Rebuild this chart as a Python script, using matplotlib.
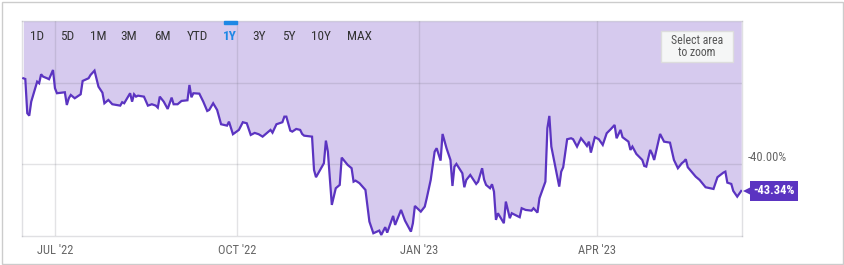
import matplotlib
matplotlib.use('Agg')
import pandas as pd
import numpy as np
import matplotlib.pyplot as plt
import matplotlib.patches as mpatches
import matplotlib.transforms as mtransforms

plt.rcParams['font.family'] = ['Roboto Condensed', 'Liberation Sans Narrow', 'Roboto', 'DejaVu Sans']

# data (cumulative % change, 1Y)
dates = [
    "2022-06-15", "2022-06-16", "2022-06-17", "2022-06-18", "2022-06-19", "2022-06-21",
    "2022-06-22", "2022-06-23", "2022-06-24", "2022-06-25", "2022-06-27", "2022-06-28",
    "2022-06-30", "2022-07-01", "2022-07-02", "2022-07-06", "2022-07-07", "2022-07-08",
    "2022-07-09", "2022-07-11", "2022-07-14", "2022-07-15", "2022-07-18", "2022-07-19",
    "2022-07-21", "2022-07-23", "2022-07-25", "2022-07-26", "2022-07-28", "2022-07-30",
    "2022-08-03", "2022-08-04", "2022-08-05", "2022-08-08", "2022-08-09", "2022-08-10",
    "2022-08-11", "2022-08-12", "2022-08-15", "2022-08-17", "2022-08-19", "2022-08-21",
    "2022-08-22", "2022-08-23", "2022-08-25", "2022-08-27", "2022-08-29", "2022-08-30",
    "2022-09-01", "2022-09-03", "2022-09-06", "2022-09-07", "2022-09-08", "2022-09-09",
    "2022-09-12", "2022-09-14", "2022-09-16", "2022-09-17", "2022-09-19", "2022-09-21",
    "2022-09-23", "2022-09-26", "2022-09-27", "2022-09-29", "2022-10-02", "2022-10-04",
    "2022-10-06", "2022-10-08", "2022-10-10", "2022-10-12", "2022-10-14", "2022-10-18",
    "2022-10-19", "2022-10-21", "2022-10-24", "2022-10-25", "2022-10-26", "2022-10-28",
    "2022-10-29", "2022-10-31", "2022-11-02", "2022-11-03", "2022-11-04", "2022-11-08",
    "2022-11-09", "2022-11-10", "2022-11-14", "2022-11-15", "2022-11-16", "2022-11-18",
    "2022-11-20", "2022-11-22", "2022-11-23", "2022-11-26", "2022-11-28", "2022-11-29",
    "2022-11-30", "2022-12-02", "2022-12-05", "2022-12-07", "2022-12-09", "2022-12-12",
    "2022-12-13", "2022-12-15", "2022-12-16", "2022-12-19", "2022-12-20", "2022-12-23",
    "2022-12-25", "2022-12-28", "2022-12-29", "2022-12-30", "2023-01-02", "2023-01-04",
    "2023-01-05", "2023-01-07", "2023-01-09", "2023-01-10", "2023-01-12", "2023-01-13",
    "2023-01-15", "2023-01-17", "2023-01-18", "2023-01-19", "2023-01-20", "2023-01-23",
    "2023-01-24", "2023-01-25", "2023-01-27", "2023-01-30", "2023-01-31", "2023-02-02",
    "2023-02-03", "2023-02-04", "2023-02-06", "2023-02-07", "2023-02-08", "2023-02-09",
    "2023-02-10", "2023-02-13", "2023-02-14", "2023-02-16", "2023-02-17", "2023-02-21",
    "2023-02-22", "2023-02-24", "2023-02-27", "2023-02-28", "2023-03-02", "2023-03-03",
    "2023-03-06", "2023-03-07", "2023-03-08", "2023-03-09", "2023-03-13", "2023-03-14",
    "2023-03-15", "2023-03-17", "2023-03-19", "2023-03-20", "2023-03-22", "2023-03-24",
    "2023-03-26", "2023-03-27", "2023-03-28", "2023-03-29", "2023-03-31", "2023-04-02",
    "2023-04-04", "2023-04-06", "2023-04-08", "2023-04-10", "2023-04-11", "2023-04-13",
    "2023-04-14", "2023-04-17", "2023-04-18", "2023-04-19", "2023-04-21", "2023-04-24",
    "2023-04-25", "2023-04-26", "2023-04-28", "2023-04-29", "2023-04-30", "2023-05-03",
    "2023-05-05", "2023-05-08", "2023-05-10", "2023-05-12", "2023-05-14", "2023-05-15",
    "2023-05-16", "2023-05-17", "2023-05-21", "2023-05-23", "2023-05-26", "2023-05-30",
    "2023-06-01", "2023-06-04", "2023-06-05", "2023-06-06", "2023-06-08", "2023-06-09",
    "2023-06-11", "2023-06-13",
]
values = [
    -29.42, -29.51, -33.74, -34.04, -32.31, -30.65,
    -29.84, -30.04, -28.93, -29.22, -29.42, -29.54,
    -28.40, -30.65, -31.27, -31.15, -32.72, -31.89,
    -31.48, -31.89, -31.40, -29.75, -29.42, -29.01,
    -28.48, -30.46, -31.20, -32.51, -32.10, -32.63,
    -32.80, -32.38, -32.51, -31.27, -32.31, -31.40,
    -31.69, -31.57, -31.69, -32.80, -32.63, -32.80,
    -33.05, -31.69, -32.31, -33.21, -31.81, -32.63,
    -32.63, -32.22, -32.14, -30.25, -31.77, -31.27,
    -31.32, -32.31, -33.46, -33.33, -32.51, -33.33,
    -35.10, -35.27, -34.78, -36.33, -35.80, -34.85,
    -34.98, -36.42, -36.17, -36.33, -36.63, -35.80,
    -36.14, -35.10, -34.85, -34.16, -34.16, -35.89,
    -36.01, -35.68, -35.80, -36.30, -36.51, -36.63,
    -40.74, -41.64, -39.91, -37.12, -38.48, -45.06,
    -43.00, -42.59, -39.22, -40.12, -40.53, -42.19,
    -42.06, -42.38, -43.21, -47.12, -48.56, -48.23,
    -48.77, -47.81, -48.48, -46.42, -47.53, -45.68,
    -47.00, -48.36, -47.32, -45.19, -45.89, -45.27,
    -44.23, -41.98, -38.48, -38.06, -39.59, -36.30,
    -38.06, -39.51, -42.72, -40.33, -40.00, -41.15,
    -42.88, -41.98, -41.36, -42.47, -42.19, -40.53,
    -41.93, -42.59, -43.00, -42.51, -43.42, -46.91,
    -46.09, -47.32, -44.65, -46.70, -46.09, -46.58,
    -45.47, -45.68, -45.77, -45.47, -46.01, -44.23,
    -42.19, -35.59, -34.07, -37.86, -42.80, -40.95,
    -40.41, -36.95, -36.83, -36.95, -37.86, -36.83,
    -37.44, -37.78, -37.25, -38.60, -36.70, -36.95,
    -37.65, -36.21, -35.72, -35.19, -36.83, -35.80,
    -36.70, -37.25, -38.27, -37.86, -38.77, -39.51,
    -40.25, -40.33, -38.27, -38.77, -39.51, -36.30,
    -37.25, -37.37, -39.51, -40.53, -39.91, -39.72,
    -39.42, -40.41, -41.57, -41.98, -42.88, -43.09,
    -41.64, -41.07, -40.95, -42.31, -42.47, -43.33,
    -44.04, -43.34,
]
tick_dates = ["2022-07-01", "2022-10-01", "2023-01-01", "2023-04-01"]
tick_labels = ["JUL '22", "OCT '22", "JAN '23", "APR '23"]
grid_values = [-30, -40]
range_buttons = ["1D", "5D", "1M", "3M", "6M", "YTD", "1Y", "3Y", "5Y", "10Y", "MAX"]
button_x = [37, 67, 98, 129, 162, 197, 230, 259, 289, 321, 359]

x = pd.to_datetime(dates)
y = np.array(values)

line_col = "#5b34c1"
fill_col = "#d6caee"

fig = plt.figure(figsize=(8.44, 2.65), dpi=100)
ax = fig.add_axes([22/844, 1-236/265, 720/844, 215/265])

ylo, yhi = -48.9, -22.35
ax.set_ylim(ylo, yhi)
ax.set_xlim(pd.Timestamp("2022-06-14 08:00"), pd.Timestamp("2023-06-13 10:00"))

ax.fill_between(x, y, yhi, color=fill_col, linewidth=0, zorder=1)
ax.plot(x, y, color=line_col, linewidth=1.6, zorder=4, solid_joinstyle='miter')

for g in grid_values:
    ax.axhline(g, color=(0.45, 0.45, 0.5), alpha=0.2, linewidth=1, zorder=2)
for d in tick_dates:
    ax.axvline(pd.Timestamp(d), color=(0.45, 0.45, 0.5), alpha=0.2, linewidth=1, zorder=2)

ax.set_xticks(pd.to_datetime(tick_dates))
ax.set_xticklabels(tick_labels, color="#666666", fontsize=9)
ax.tick_params(axis='x', length=0, pad=5.5)
ax.set_yticks([])
for s in ax.spines.values():
    s.set_color((0.45, 0.45, 0.5))
    s.set_alpha(0.22)
    s.set_linewidth(1)

# value axis label
ax.annotate("-40.00%", xy=(1, -40), xycoords=('axes fraction', 'data'),
            xytext=(4, 4.5), textcoords='offset points', ha='left', va='center',
            color="#666666", fontsize=9)

# last value marker
edge = mtransforms.blended_transform_factory(ax.transAxes, ax.transData)
ax.plot([1.0], [y[-1]], marker='<', markersize=7, color=line_col, clip_on=False,
        transform=edge + mtransforms.ScaledTranslation(4/72, 0, fig.dpi_scale_trans),
        markeredgewidth=0, zorder=6)
ax.annotate("-43.34%", xy=(1, y[-1]), xycoords=('axes fraction', 'data'),
            xytext=(23, 0), textcoords='offset points', ha='center', va='center',
            color="white", fontsize=9, fontweight='bold',
            bbox=dict(boxstyle='square,pad=0.3', fc=line_col, ec='none'))

# range selector
for lab, bx in zip(range_buttons, button_x):
    sel = lab == "1Y"
    fig.text(bx/844, 1-36/265, lab, ha='center', va='center', fontsize=9.5,
             color="#1e88e5" if sel else "#333333", fontweight='bold' if sel else 'normal')
fig.patches.append(mpatches.Rectangle((224/844, 1-23.5/265), 13/844, 2.5/265,
                                      transform=fig.transFigure, color="#1e88e5"))

# zoom hint box
fig.patches.append(mpatches.Rectangle((661/844, 1-62/265), 72/844, 31/265,
                                      transform=fig.transFigure, fc="#f5f6f6", ec="#dddddd", lw=1))
fig.text(697/844, 1-40.5/265, "Select area", ha='center', va='center', fontsize=8.5, color="#555555")
fig.text(697/844, 1-52.5/265, "to zoom", ha='center', va='center', fontsize=8.5, color="#555555")

# outer frame
fig.patches.append(mpatches.Rectangle((1.5/844, 1.5/265), 841/844, 262/265,
                                      transform=fig.transFigure, fill=False, ec="#cccccc", lw=1))

plt.savefig("out.png", dpi=100)
plt.close()
